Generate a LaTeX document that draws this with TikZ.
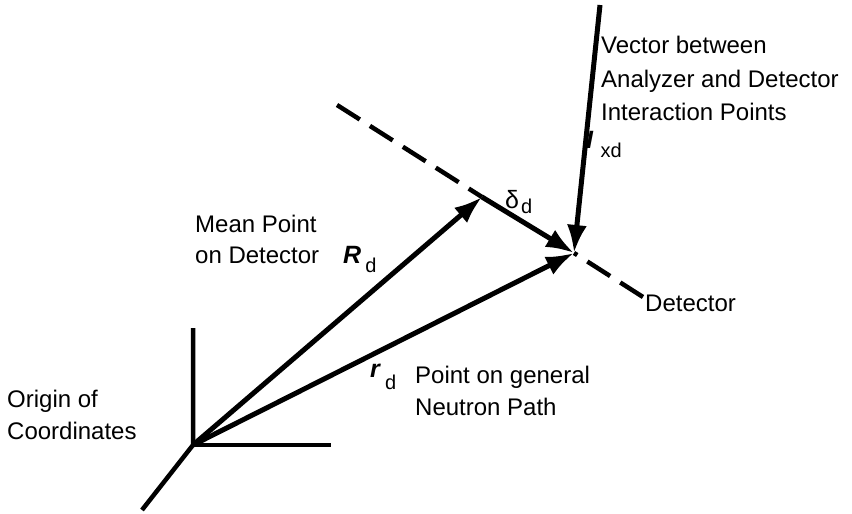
\documentclass[tikz,border=0pt]{standalone}
\usepackage{fontspec}
\setmainfont{Liberation Sans}
\usetikzlibrary{arrows.meta}

\newcommand{\lowsub}[2]{\raisebox{-#1}{\fontsize{20}{20}\selectfont #2}}

\begin{document}
\begin{tikzpicture}[x=1pt, y=-1pt,
        vec/.style={line width=5pt, -{Latex[length=28pt,width=20pt]}},
        axis/.style={line width=4.5pt},
        detline/.style={line width=4.5pt, dash pattern=on 27pt off 12pt},
        lbl/.style={font=\fontsize{24}{#1}\selectfont, inner sep=0pt, align=left, anchor=north west},
        lbl/.default=32,
        sym/.style={font=\fontsize{25}{28}\selectfont, inner sep=0pt, anchor=base west}]
        \useasboundingbox (0,0) rectangle (852,514);

        % Points
        \coordinate (origin) at (193,445);
        \coordinate (mean) at (482,197);
        \coordinate (hit) at (574,253);
        \coordinate (detstart) at (337,105);
        \coordinate (detend) at (643,297);
        \coordinate (xdtop) at (600,5);
        \coordinate (zaxis) at (193,328);
        \coordinate (yaxis) at (331,445);
        \coordinate (xaxis) at (142,510);

        % Axes
        \draw[axis] (xaxis) -- (origin) -- (zaxis);
        \draw[axis] (origin) -- (yaxis);

        % Detector
        \draw[detline] (detstart) -- (mean);
        \draw[detline] (detend) -- (hit);

        % Vectors
        \draw[vec] (origin) -- (mean);
        \draw[vec] (origin) -- (hit);
        \draw[vec] (mean) -- (hit);
        \draw[vec] (xdtop) -- (hit);

        % Labels
        \node[lbl=33.5] (vecl) at (601,36) {Vector between\\Analyzer and Detector\\Interaction Points};
        \node[lbl=31] (meanl) at (195,215) {Mean Point\\on Detector};
        \node[lbl] (pathl) at (415,366) {Point on general\\Neutron Path};
        \node[lbl] (origl) at (7,390) {Origin of\\Coordinates};
        \node[lbl] (detl) at (645,295) {Detector};

        % Symbols
        \node[sym] (Rl) at (343,263) {\textbf{\textit{R}}\hspace{4pt}\lowsub{9pt}{d}};
        \node[sym] (rl) at (370,377) {\textbf{\textit{r}}\hspace{4pt}\lowsub{12pt}{d}};
        \node[sym] (deltal) at (505,208) {δ\hspace{2pt}\lowsub{5pt}{d}};
        \node[sym] (Il) at (586,148) {\textbf{\textit{I}}\hspace{7pt}\lowsub{9pt}{xd}};
\end{tikzpicture}
\end{document}
